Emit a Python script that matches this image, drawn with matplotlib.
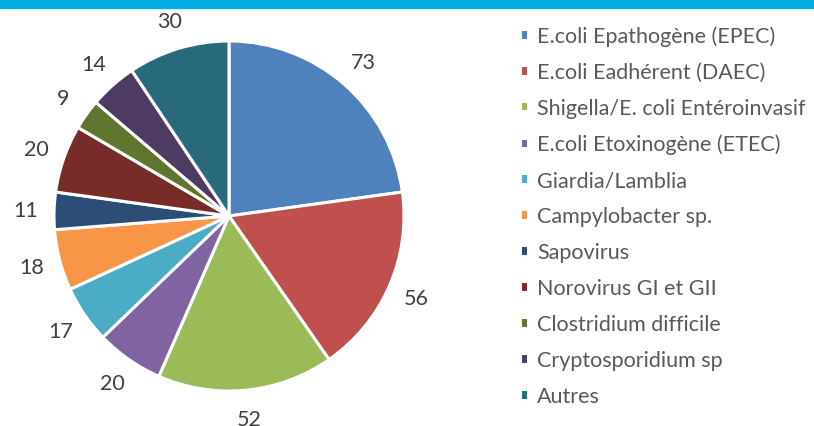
import matplotlib.pyplot as plt
from matplotlib.patches import Rectangle

categories = ["E.coli Epathogène (EPEC)", "E.coli Eadhérent (DAEC)",
              "Shigella/E. coli Entéroinvasif", "E.coli Etoxinogène (ETEC)",
              "Giardia/Lamblia", "Campylobacter sp.", "Sapovirus",
              "Norovirus GI et GII", "Clostridium difficile",
              "Cryptosporidium sp", "Autres"]
values = [73, 56, 52, 20, 17, 18, 11, 20, 9, 14, 30]
colors = ["#4F81BD", "#C0504D", "#9BBB59", "#8064A2", "#4BACC6", "#F79646",
          "#2C4D75", "#772C2A", "#5F7530", "#4D3B62", "#276A7C"]

plt.rcParams['font.family'] = ['Lato', 'DejaVu Sans']

W, H = 814, 427
fig = plt.figure(figsize=(W / 100, H / 100), dpi=100)

# blue band on top
fig.patches.append(Rectangle((0, 1 - 9 / H), 1, 9 / H, transform=fig.transFigure,
                             color="#00B0E4", zorder=0))

cx, cy, r = 229, 217, 175
ax = fig.add_axes([(cx - r) / W, (H - cy - r) / H, 2 * r / W, 2 * r / H])
total = sum(values)
wedges, texts, autotexts = ax.pie(
    values, colors=colors, startangle=90, counterclock=False,
    autopct=lambda p: "{:.0f}".format(p * total / 100), pctdistance=1.165,
    wedgeprops=dict(edgecolor="white", linewidth=2.2),
    textprops=dict(color="#404040", fontsize=15.5))
ax.set_xlim(-1, 1)
ax.set_ylim(-1, 1)
ax.set_aspect("equal")

fig.legend(wedges, categories, loc="upper left",
           bbox_to_anchor=(520 / W, 1 - 26.5 / H), frameon=False,
           fontsize=15.5, handlelength=0.37, handleheight=0.37,
           handletextpad=0.42, labelspacing=0.74, labelcolor="#595959",
           borderaxespad=0, borderpad=0)

fig.savefig("out.png", dpi=100)
